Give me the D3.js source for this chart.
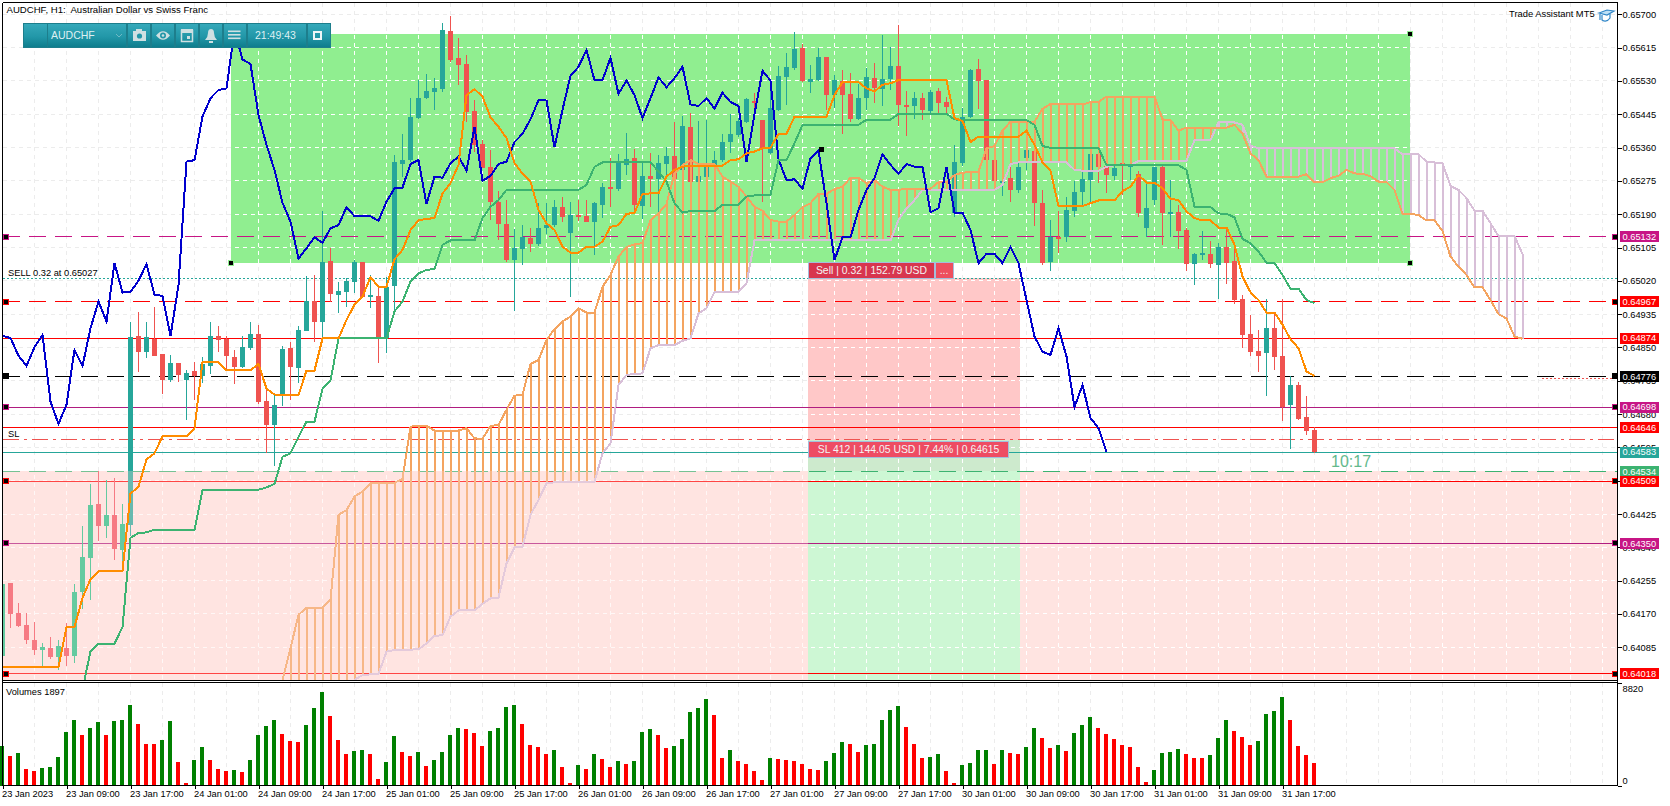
<!DOCTYPE html>
<html>
<head>
<meta charset="utf-8">
<script src="https://cdn.jsdelivr.net/npm/d3@7"></script>
<style>
  html, body { margin: 0; padding: 0; background: #fff; }
  svg { display: block; }
  text { font-family: "Liberation Sans", Arial, sans-serif; font-size: 9.3px; fill: #000; }
  .domain { display: none; }
  .axis line { stroke: #000; shape-rendering: crispEdges; }
  .crisp { shape-rendering: crispEdges; }
</style>
</head>
<body>
<div id="chart"></div>
<script>
// all prices are in points, 65700 = 0.65700
var open = [
  64064,64249,64172,64143,64104,64079,64084,64059,64084,64062,
  64225,64314,64451,64395,64423,64332,64398,64880,64839,64872,
  64834,64768,64811,64768,64790,64778,64803,64880,64872,64825,
  64801,64849,64885,64714,64653,64727,64849,64798,64893,64968,
  64915,65071,64984,64992,65017,65067,64982,64982,64874,65007,
  65318,65327,65436,65487,65502,65510,65657,65588,65573,65453,
  65369,65310,65221,65165,65073,65102,65130,65114,65155,65163,
  65209,65143,65188,65186,65170,65214,65260,65255,65316,65334,
  65211,65288,65280,65318,65339,65303,65413,65273,65286,65311,
  65327,65374,65392,65424,65480,65430,65345,65456,65541,65562,
  65614,65528,65533,65592,65494,65531,65497,65432,65487,65538,
  65509,65534,65568,65469,65466,65487,65453,65505,65476,65192,
  65320,65437,65560,65533,65328,65270,65282,65252,65333,65352,
  65218,65067,65133,65131,65199,65247,65277,65343,65314,65288,
  65320,65310,65293,65156,65226,65311,65192,65196,65150,65063,
  65089,65089,65061,65106,65071,64974,64885,64841,64836,64900,
  64828,64704,64755,64673,64640
];
var high = [
  64247,64249,64198,64172,64150,64096,64111,64103,64147,64247,
  64395,64502,64534,64512,64517,64451,64916,64941,64914,64953,
  64834,64832,64811,64793,64812,64825,64914,64905,64878,64844,
  64880,64914,64908,64742,64732,64853,64863,64905,65033,65035,
  65198,65103,65017,65028,65072,65067,65034,65006,65031,65341,
  65395,65487,65532,65548,65538,65677,65696,65640,65595,65481,
  65379,65354,65249,65226,65153,65163,65155,65218,65218,65226,
  65235,65220,65225,65226,65220,65269,65334,65344,65396,65356,
  65320,65345,65341,65361,65425,65441,65447,65429,65430,65350,
  65395,65446,65436,65487,65500,65430,65515,65568,65600,65655,
  65624,65571,65613,65592,65545,65558,65551,65522,65562,65575,
  65647,65617,65673,65504,65501,65499,65507,65511,65488,65366,
  65460,65560,65585,65533,65330,65282,65310,65333,65354,65375,
  65252,65175,65197,65235,65275,65312,65343,65350,65320,65320,
  65323,65322,65300,65268,65311,65315,65276,65213,65154,65092,
  65147,65122,65116,65150,65100,64984,64933,64895,64974,64937,
  64974,64777,64762,64725,64646
];
var low = [
  64064,64133,64137,64094,64066,64038,64054,64026,64037,64045,
  64183,64205,64355,64365,64307,64300,64368,64788,64822,64827,
  64732,64762,64761,64665,64716,64759,64783,64839,64795,64757,
  64797,64844,64706,64580,64547,64700,64716,64759,64891,64863,
  64874,64967,64939,64953,64989,64978,64950,64810,64837,64946,
  65286,65324,65434,65483,65456,65503,65579,65520,65424,65349,
  65307,65174,65124,65067,64944,65061,65094,65109,65140,65158,
  65169,64980,65173,65169,65086,65180,65209,65250,65290,65201,
  65178,65209,65196,65286,65275,65301,65271,65271,65284,65308,
  65323,65345,65388,65422,65430,65220,65344,65454,65469,65558,
  65528,65498,65531,65456,65460,65395,65426,65430,65456,65473,
  65466,65507,65415,65390,65433,65430,65447,65446,65446,65184,
  65314,65435,65458,65325,65273,65237,65220,65245,65304,65160,
  65061,65046,65090,65120,65182,65210,65218,65270,65245,65276,
  65239,65276,65182,65133,65213,65111,65133,65101,65045,65009,
  65073,65053,64974,65012,64961,64848,64829,64788,64725,64793,
  64663,64591,64665,64627,64580
];
var close = [
  64247,64171,64140,64103,64077,64086,64059,64089,64062,64227,
  64315,64449,64395,64423,64337,64400,64876,64839,64876,64829,
  64768,64811,64780,64784,64778,64808,64880,64870,64827,64801,
  64851,64885,64711,64653,64704,64847,64801,64895,64968,64914,
  65068,64987,64994,65020,65067,64980,64985,64874,65004,65323,
  65328,65439,65487,65504,65512,65660,65583,65571,65451,65367,
  65308,65220,65165,65073,65104,65132,65114,65155,65163,65209,
  65184,65188,65184,65170,65219,65260,65255,65320,65331,65214,
  65288,65280,65320,65339,65280,65415,65273,65288,65311,65327,
  65374,65395,65428,65484,65476,65358,65461,65543,65566,65612,
  65530,65535,65592,65494,65532,65494,65432,65487,65540,65511,
  65534,65568,65469,65465,65487,65456,65502,65473,65463,65323,
  65437,65558,65530,65328,65275,65274,65252,65311,65354,65218,
  65065,65133,65128,65201,65247,65280,65343,65311,65290,65309,
  65314,65316,65194,65205,65311,65192,65196,65148,65063,65089,
  65091,65063,65106,65066,64971,64882,64839,64829,64900,64826,
  64698,64755,64668,64637,64584
];
var volumes = [
  3398,2534,2794,1411,1238,1498,1584,2448,4608,5645,
  4349,4954,5472,4349,5558,5645,6941,5299,3571,3571,
  3917,5558,2016,202,2189,3312,2189,1411,1238,1325,
  1152,2189,4349,5126,5645,4435,3830,3744,5213,6682,
  8064,5990,3917,2707,2966,3053,2707,547,2016,4262,
  2880,2534,2880,1670,2189,2880,4349,4954,4867,4522,
  3398,4694,4954,6768,6941,5299,3485,3312,2707,3053,
  1584,202,1757,1411,2707,2275,1584,2102,1843,2102,
  4608,4867,4349,3226,3398,4003,6336,6682,7459,6077,
  2362,3053,2102,1843,1238,461,2362,2275,2189,2102,
  1843,1411,1325,2102,2794,3744,3571,2880,3485,3571,
  5645,6509,6854,5040,3571,2362,2448,2707,1238,202,
  1757,1930,3053,3053,1843,3053,2794,2707,3312,4954,
  4090,3226,3485,2966,4522,5213,5904,4954,4435,4003,
  3485,3312,1584,288,1325,2794,2880,3139,2707,2362,
  2362,2621,4090,5645,4694,4176,3485,3830,6163,6422,
  7632,5645,3398,2621,1930
];
// 1 = green volume bar, 0 = red
var volumeUp = ("1010011111" + "0110111000" + "1100110001" + "0111100011" + "1000110011" +
  "0010111100" + "0111100001" + "0010100101" + "1100111110" + "0100001000" +
  "0001110011" + "1110001100" + "1111010011" + "0010111000" + "0000111100" +
  "0111000111" + "10000").split("");

// ichimoku lines
var tenkan = [
  64034,64034,64034,64034,64034,64034,64034,64034,64136,64137,
  64211,64259,64279,64279,64279,64279,64477,64495,64564,64580,
  64623,64623,64623,64623,64644,64812,64812,64812,64792,64792,
  64792,64792,64808,64745,64730,64729,64729,64729,64791,64791,
  64873,64873,64873,64920,64959,64980,65029,65005,65005,65075,
  65099,65150,65174,65178,65180,65243,65269,65316,65494,65509,
  65490,65437,65413,65384,65320,65294,65273,65201,65167,65150,
  65107,65092,65092,65107,65107,65120,65158,65162,65191,65193,
  65242,65243,65243,65286,65303,65311,65314,65314,65314,65314,
  65314,65328,65330,65345,65350,65358,65360,65395,65395,65439,
  65439,65439,65439,65439,65494,65527,65527,65527,65511,65503,
  65520,65524,65532,65532,65532,65532,65532,65532,65532,65435,
  65428,65374,65388,65388,65388,65388,65388,65388,65403,65367,
  65322,65301,65211,65211,65211,65211,65218,65225,65225,65225,
  65249,65260,65290,65270,65270,65256,65229,65226,65197,65180,
  65174,65174,65156,65156,65112,65031,64991,64971,64939,64939,
  64908,64871,64848,64789,64777
];
var kijunStart = 10;
var kijun = [
  63977,64075,64094,64094,64094,64137,64364,64377,64378,64385,
  64385,64385,64385,64385,64385,64487,64487,64487,64487,64487,
  64487,64487,64487,64493,64502,64571,64580,64622,64661,64661,
  64744,64766,64873,64873,64873,64873,64873,64873,64873,64942,
  64967,65018,65039,65048,65050,65112,65123,65123,65123,65123,
  65180,65209,65226,65252,65252,65252,65252,65252,65252,65252,
  65252,65252,65252,65265,65311,65322,65322,65322,65322,65322,
  65322,65322,65299,65273,65218,65194,65198,65198,65198,65198,
  65214,65214,65214,65235,65238,65239,65240,65328,65328,65371,
  65418,65418,65418,65418,65418,65418,65418,65418,65431,65431,
  65431,65431,65446,65446,65446,65446,65446,65446,65446,65432,
  65430,65430,65430,65430,65430,65430,65430,65430,65430,65418,
  65364,65359,65359,65359,65359,65359,65359,65359,65315,65315,
  65315,65315,65315,65315,65315,65315,65315,65315,65303,65209,
  65209,65208,65192,65191,65182,65127,65116,65095,65066,65066,
  65035,65000,65000,64971,64963
];
var chikou = [
  64880,64874,64829,64803,64851,64882,64712,64655,64704,64844,
  64803,64899,64967,64916,65065,64990,64992,65020,65063,64984,
  64982,64879,65009,65324,65328,65439,65486,65507,65511,65660,
  65585,65573,65443,65367,65303,65219,65171,65077,65103,65131,
  65117,65154,65162,65208,65185,65185,65185,65173,65222,65256,
  65258,65318,65328,65216,65286,65283,65320,65337,65301,65413,
  65275,65288,65318,65324,65374,65395,65432,65481,65480,65361,
  65456,65543,65566,65609,65532,65532,65589,65497,65531,65494,
  65435,65486,65539,65514,65537,65566,65470,65466,65486,65459,
  65500,65476,65466,65323,65446,65556,65531,65330,65277,65279,
  65255,65333,65352,65218,65073,65131,65131,65201,65252,65282,
  65343,65316,65293,65318,65311,65311,65195,65205,65310,65194,
  65194,65150,65065,65089,65089,65065,65106,65065,64971,64878,
  64839,64831,64899,64827,64698,64754,64670,64644,64584
];
var cloudStart = 34;
var spanA = [
  63950,64002,64083,64168,64186,64186,
  64186,64206,64423,64435,64470,64482,64503,64505,64505,64505,
  64514,64648,64650,64650,64638,64638,64638,64638,64644,64618,
  64617,64650,64652,64691,64727,64729,64808,64818,64869,64897,
  64916,64929,64950,64939,64939,65005,65035,65082,65106,65113,
  65116,65175,65192,65216,65294,65315,65328,65318,65318,65318,
  65286,65273,65260,65235,65209,65199,65175,65171,65171,65188,
  65208,65218,65242,65242,65254,65260,65283,65283,65269,65277,
  65260,65252,65252,65255,65255,65255,65255,65272,65271,65290,
  65296,65297,65299,65358,65364,65403,65426,65426,65426,65426,
  65459,65471,65471,65471,65470,65470,65476,65477,65490,65490,
  65490,65490,65490,65490,65490,65432,65430,65403,65411,65411,
  65411,65411,65411,65411,65418,65396,65345,65328,65286,65286,
  65286,65286,65286,65292,65271,65271,65282,65288,65303,65294,
  65293,65287,65273,65272,65252,65191,65191,65188,65174,65174,
  65147,65082,65056,65035,65003,65003,64971,64935,64924,64878,
  64872
];
var spanB = [
  63900,63900,63900,63900,63900,63900,
  63900,63900,63900,63960,64002,64014,64016,64017,64074,64078,
  64079,64079,64080,64095,64114,64116,64163,64179,64179,64179,
  64196,64210,64212,64299,64340,64342,64423,64461,64503,64506,
  64507,64507,64507,64507,64507,64580,64605,64754,64780,64782,
  64784,64848,64856,64856,64856,64867,64873,64937,64950,64992,
  64992,64992,64992,65014,65123,65123,65123,65123,65123,65123,
  65123,65123,65123,65123,65123,65123,65123,65123,65123,65123,
  65123,65123,65175,65205,65226,65252,65252,65252,65252,65252,
  65252,65252,65252,65252,65252,65265,65318,65322,65322,65322,
  65322,65322,65322,65322,65303,65301,65301,65301,65311,65315,
  65316,65315,65326,65326,65326,65326,65326,65326,65326,65379,
  65379,65379,65424,65424,65424,65418,65365,65358,65358,65358,
  65358,65358,65358,65358,65358,65358,65358,65358,65358,65358,
  65358,65358,65358,65358,65358,65343,65343,65343,65324,65322,
  65320,65262,65252,65231,65199,65199,65167,65134,65134,65134,
  65088
];

// axis labels
var priceTicks = [65700,65615,65530,65445,65360,65275,65190,65105,65020,64935,64850,64765,64680,64595,64510,64425,64340,64255,64170,64085];
var timeLabels = ["23 Jan 2023","23 Jan 09:00","23 Jan 17:00","24 Jan 01:00","24 Jan 09:00","24 Jan 17:00","25 Jan 01:00","25 Jan 09:00","25 Jan 17:00","26 Jan 01:00","26 Jan 09:00","26 Jan 17:00","27 Jan 01:00","27 Jan 09:00","27 Jan 17:00","30 Jan 01:00","30 Jan 09:00","30 Jan 17:00","31 Jan 01:00","31 Jan 09:00","31 Jan 17:00"];

// horizontal levels on the chart
var levelPrices = [65132,64967,64874,64776,64698,64646,64583,64534,64509,64350,64018];
var levelColors = ["#c71585","#ff0000","#ff0000","#000000","#b01c80","#ff0000","#26a69a","#3cb371","#ff0000","#b01c80","#ff0000"];
var levelBoxes = ["#c71585","#ff0000","#ff0000","#000000","#c71585","#ff0000","#26a69a","#3cb371","#ff0000","#c71585","#ff0000"];
var levelDashed = [1,1,0,1,0,0,0,1,0,0,0];
var levelHandles = [1,1,0,1,1,0,0,0,1,1,1];
var sellPrice = 65027, stopPrice = 64615, pinkTop = 64534;
var boxTop = 65650, boxBottom = 65065, boxLeft = 28.56, boxRight = 175.9;
var posLeft = 100.7, posRight = 127.2;

// chart areas
var svgWidth = 1670, svgHeight = 806;
var plotLeft = 2.5, plotRight = 1617.5, plotTop = 2.5, plotBottom = 680.5;
var volTop = 683, volBottom = 785.5;

var svg = d3.select("#chart").append("svg").attr("width", svgWidth).attr("height", svgHeight);
var defs = svg.append("defs");

var xScale = d3.scaleLinear().domain([0, 201.875]).range([plotLeft, plotRight]);
var yScale = d3.scaleLinear().domain([65700, 64085]).range([14.3, 647.3]);
var volScale = d3.scaleLinear().domain([0, 8820]).range([volBottom, volTop]);

// snap a y position to the middle of a pixel row
function snap(y) { return Math.round(y - .5) + .5; }

defs.append("clipPath").attr("id", "plotClip").append("rect")
  .attr("x", plotLeft).attr("y", plotTop)
  .attr("width", plotRight - plotLeft).attr("height", plotBottom - plotTop);

var main = svg.append("g").attr("clip-path", "url(#plotClip)");

// background zones
main.append("rect").attr("class", "crisp").attr("x", plotLeft).attr("width", plotRight - plotLeft)
  .attr("y", yScale(pinkTop)).attr("height", plotBottom - yScale(pinkTop)).attr("fill", "#ffe4e1");
main.append("rect").attr("class", "crisp").attr("x", xScale(boxLeft)).attr("width", xScale(boxRight) - xScale(boxLeft))
  .attr("y", yScale(boxTop)).attr("height", yScale(boxBottom) - yScale(boxTop)).attr("fill", "#90ee90");

// position box, risk part and target part
var posX = xScale(posLeft), posW = xScale(posRight) - xScale(posLeft);
main.append("rect").attr("class", "crisp").attr("x", posX).attr("width", posW)
  .attr("y", yScale(sellPrice)).attr("height", yScale(stopPrice) - yScale(sellPrice)).attr("fill", "#ffc8c8");
main.append("rect").attr("class", "crisp").attr("x", posX).attr("width", posW)
  .attr("y", yScale(stopPrice)).attr("height", yScale(pinkTop) - yScale(stopPrice)).attr("fill", "#cdeacd");
main.append("rect").attr("class", "crisp").attr("x", posX).attr("width", posW)
  .attr("y", yScale(pinkTop)).attr("height", plotBottom - yScale(pinkTop)).attr("fill", "#cdf7d4");

// grid, a grey one and a white one on top of the zones
var gridX = d3.range(0, 201, 4);
function drawGrid(parent, color) {
  parent.selectAll("line.gx").data(gridX).enter().append("line").attr("class", "gx crisp")
    .attr("x1", d => xScale(d)).attr("x2", d => xScale(d))
    .attr("y1", plotTop).attr("y2", plotBottom)
    .attr("stroke", color).attr("stroke-dasharray", "4,4");
  parent.selectAll("line.gy").data(priceTicks).enter().append("line").attr("class", "gy crisp")
    .attr("x1", plotLeft).attr("x2", plotRight)
    .attr("y1", d => snap(yScale(d))).attr("y2", d => snap(yScale(d)))
    .attr("stroke", color).attr("stroke-dasharray", "4,4");
}
drawGrid(main.append("g"), "#ececec");

var zoneClip = defs.append("clipPath").attr("id", "zoneClip");
zoneClip.append("rect").attr("x", plotLeft).attr("width", plotRight - plotLeft)
  .attr("y", yScale(pinkTop)).attr("height", plotBottom - yScale(pinkTop));
zoneClip.append("rect").attr("x", xScale(boxLeft)).attr("width", xScale(boxRight) - xScale(boxLeft))
  .attr("y", yScale(boxTop)).attr("height", yScale(boxBottom) - yScale(boxTop));
zoneClip.append("rect").attr("x", posX).attr("width", posW)
  .attr("y", yScale(sellPrice)).attr("height", plotBottom - yScale(sellPrice));
drawGrid(main.append("g").attr("clip-path", "url(#zoneClip)"), "#ffffff");

// levels
main.selectAll("line.level").data(levelPrices).enter().append("line").attr("class", "level crisp")
  .attr("x1", plotLeft).attr("x2", plotRight)
  .attr("y1", d => snap(yScale(d))).attr("y2", d => snap(yScale(d)))
  .attr("stroke", (d, i) => levelColors[i]).attr("stroke-width", 1)
  .attr("stroke-dasharray", (d, i) => levelDashed[i] ? "17,9" : null);
main.append("line").attr("class", "crisp").attr("x1", plotLeft).attr("x2", plotRight)
  .attr("y1", snap(yScale(sellPrice))).attr("y2", snap(yScale(sellPrice)))
  .attr("stroke", "#26a69a").attr("stroke-dasharray", "2,2");
main.append("line").attr("class", "crisp").attr("x1", plotLeft).attr("x2", plotRight)
  .attr("y1", snap(yScale(stopPrice))).attr("y2", snap(yScale(stopPrice)))
  .attr("stroke", "#ef5350").attr("stroke-dasharray", "16,5,3,5");
main.append("line").attr("class", "crisp").attr("x1", 1542).attr("x2", 1612)
  .attr("y1", snap(yScale(64776) + 2)).attr("y2", snap(yScale(64776) + 2))
  .attr("stroke", "#ef5350").attr("stroke-dasharray", "2,2");

// candles
var candles = open.map((d, i) => i);
function candleColor(i) {
  var inPink = high[i] <= pinkTop;
  if (close[i] >= open[i]) return inPink ? "#21bf85" : "#26a69a";
  return inPink ? "#f34c5b" : "#ef5350";
}
main.selectAll("line.wick").data(candles).enter().append("line").attr("class", "wick crisp")
  .attr("x1", d => xScale(d)).attr("x2", d => xScale(d))
  .attr("y1", d => yScale(high[d])).attr("y2", d => yScale(low[d]))
  .attr("stroke", candleColor);
main.selectAll("rect.body").data(candles).enter().append("rect").attr("class", "body crisp")
  .attr("x", d => xScale(d) - 2.5).attr("width", 5)
  .attr("y", d => yScale(Math.max(open[d], close[d])))
  .attr("height", d => Math.max(2, Math.abs(yScale(open[d]) - yScale(close[d]))))
  .attr("fill", candleColor);

// cloud hatch and its two borders
var cloudIdx = spanA.map((d, i) => i);
main.selectAll("line.hatch").data(cloudIdx).enter().append("line").attr("class", "hatch crisp")
  .attr("x1", d => xScale(d + cloudStart)).attr("x2", d => xScale(d + cloudStart))
  .attr("y1", d => yScale(spanA[d])).attr("y2", d => yScale(spanB[d]))
  .attr("stroke", d => spanA[d] >= spanB[d] ? "#f4a460" : "#d8bfd8").attr("stroke-width", 2);

function drawLine(values, start, color) {
  var line = d3.line().x((d, i) => xScale(i + start)).y(d => yScale(d));
  main.append("path").datum(values).attr("class", "crisp").attr("d", line).attr("fill", "none")
    .attr("stroke", color).attr("stroke-width", 2);
}
drawLine(spanB, cloudStart, "#d8bfd8");
drawLine(spanA, cloudStart, "#f4a460");
// the cloud looks paler inside the pink zone
main.append("rect").attr("class", "crisp").attr("x", plotLeft).attr("width", xScale(posLeft) - plotLeft)
  .attr("y", yScale(pinkTop)).attr("height", plotBottom - yScale(pinkTop))
  .attr("fill", "#ffe4e1").attr("opacity", .3);
drawLine(chikou, 0, "#0000cd");
drawLine(kijun, kijunStart, "#3cb371");
drawLine(tenkan, 0, "#ff8c00");

// handles on the objects
function handle(x, y, color) {
  svg.append("rect").attr("class", "crisp").attr("x", Math.round(x) - 3).attr("y", Math.round(y) - 3)
    .attr("width", 5).attr("height", 5)
    .attr("fill", "#000").attr("stroke", color).attr("stroke-width", 1);
}
levelPrices.forEach(function (p, i) {
  if (levelHandles[i]) {
    handle(5.5, yScale(p), levelBoxes[i]);
    handle(1614.5, yScale(p), levelBoxes[i]);
  }
});
handle(xScale(boxLeft), yScale(boxBottom), "#90ee90");
handle(xScale(boxRight), yScale(boxBottom), "#90ee90");
handle(xScale(boxRight), yScale(boxTop), "#90ee90");
svg.append("rect").attr("x", 819).attr("y", 147).attr("width", 5).attr("height", 5).attr("fill", "#000");

// trade buttons
function tradeLabel(x, y, w, h, fill, label) {
  svg.append("rect").attr("class", "crisp").attr("x", x).attr("y", y).attr("width", w).attr("height", h)
    .attr("fill", fill).attr("stroke", "#a4bedc");
  svg.append("text").attr("x", x + w / 2).attr("y", y + h / 2).attr("dy", ".36em")
    .attr("text-anchor", "middle").style("font-size", "10.4px").style("fill", "#f4f4f4").text(label);
}
tradeLabel(808.5, 262, 126, 16, "#d8354e", "Sell | 0.32 | 152.79 USD");
tradeLabel(935, 262, 18, 16, "#ee4f5f", "...");
tradeLabel(808.5, 441, 200, 16, "#ee4c63", "SL 412 | 144.05 USD | 7.44% | 0.64615");

// text on the chart
function chartText(x, y, label) {
  return svg.append("text").attr("x", x).attr("y", y).attr("dy", ".36em").text(label);
}
chartText(6.5, 10, "AUDCHF, H1:  Australian Dollar vs Swiss Franc").attr("xml:space", "preserve").style("font-size", "9.6px");
chartText(1509, 14, "Trade Assistant MT5").style("font-size", "9.4px");
chartText(8, 272.5, "SELL 0.32 at 0.65027");
chartText(8, 433.5, "SL");
chartText(1331, 461, "10:17").style("font-size", "16px").style("fill", "#63b98c");

// graduation cap
var cap = svg.append("g").attr("transform", "translate(1599,9)").attr("fill", "none").attr("stroke", "#2f86c8").attr("stroke-width", 1.2);
cap.append("path").attr("d", "M0 4 L8 1 L15 2 L8 6 Z").attr("fill", "#bfe0f5");
cap.append("path").attr("d", "M3 6 V11 C6 13 9 12 11 9 V5");
cap.append("path").attr("d", "M1 5 V11");

// right price axis, the boxed labels cover some tick labels
var yAxis = svg.append("g").attr("class", "axis").attr("transform", `translate(${plotRight},0)`)
  .call(d3.axisRight(yScale).tickValues(priceTicks).tickSize(4).tickPadding(1)
    .tickFormat(d => (d / 100000).toFixed(5)));
yAxis.selectAll("text").style("font-size", "9.3px");

var boxes = svg.append("g");
levelPrices.forEach(function (p, i) {
  boxes.append("rect").attr("class", "crisp").attr("x", 1620).attr("y", yScale(p) - 5.5).attr("width", 39).attr("height", 11)
    .attr("fill", levelBoxes[i]);
  boxes.append("text").attr("x", 1622.5).attr("y", yScale(p)).attr("dy", ".36em")
    .style("fill", "#fff").text((p / 100000).toFixed(5));
});

// volumes panel
var vol = svg.append("g");
vol.selectAll("line.gv").data(gridX).enter().append("line").attr("class", "gv crisp")
  .attr("x1", d => xScale(d)).attr("x2", d => xScale(d)).attr("y1", volTop).attr("y2", volBottom)
  .attr("stroke", "#ececec").attr("stroke-dasharray", "4,4");
vol.selectAll("rect").data(volumes).enter().append("rect").attr("class", "crisp")
  .attr("x", (d, i) => xScale(i) - 2.5).attr("width", 4)
  .attr("y", d => volScale(d)).attr("height", d => volBottom - volScale(d))
  .attr("fill", (d, i) => volumeUp[i] === "1" ? "#008000" : "#ff0000");
chartText(6, 692, "Volumes 1897");

var volAxis = svg.append("g").attr("class", "axis").attr("transform", `translate(${plotRight},0)`)
  .call(d3.axisRight(volScale).tickValues([0, 8820]).tickSize(4).tickPadding(1).tickFormat(d3.format("d")));
volAxis.selectAll("text").attr("dy", (d) => d === 0 ? "-0.2em" : "0.9em");

// time axis
var xAxis = svg.append("g").attr("class", "axis").attr("transform", `translate(0,${volBottom})`)
  .call(d3.axisBottom(xScale).tickValues(timeLabels.map((d, i) => i * 8)).tickSize(3).tickPadding(2)
    .tickFormat((d, i) => timeLabels[i]));
xAxis.selectAll("text").attr("text-anchor", "start").attr("x", -1).attr("y", 5).attr("dy", ".71em");

// frames
var frame = [
  [plotLeft, plotTop, plotRight, plotTop], [plotLeft, plotTop, plotLeft, volBottom],
  [plotRight, plotTop, plotRight, volBottom], [plotLeft, plotBottom, plotRight, plotBottom],
  [plotLeft, plotBottom + 2, plotRight, plotBottom + 2], [plotLeft, volBottom, plotRight, volBottom]
];
svg.selectAll("line.frame").data(frame).enter().append("line").attr("class", "frame crisp")
  .attr("x1", d => d[0]).attr("y1", d => d[1]).attr("x2", d => d[2]).attr("y2", d => d[3])
  .attr("stroke", "#000");

// toolbar
var grad = defs.append("linearGradient").attr("id", "barGrad").attr("x1", 0).attr("y1", 0).attr("x2", 0).attr("y2", 1);
grad.append("stop").attr("offset", "0%").attr("stop-color", "#35a9ba");
grad.append("stop").attr("offset", "55%").attr("stop-color", "#2297a8");
grad.append("stop").attr("offset", "100%").attr("stop-color", "#0e7d8d");
var bar = svg.append("g").attr("transform", "translate(23,23)");
bar.append("rect").attr("width", 308).attr("height", 25).attr("fill", "#1d7e8c");
var barCells = [[1, 23], [25, 78], [105, 22], [129, 22], [153, 22], [177, 22], [201, 22], [225, 58], [285, 22]];
bar.selectAll("rect.cell").data(barCells).enter().append("rect").attr("class", "cell")
  .attr("x", d => d[0]).attr("y", 1).attr("width", d => d[1]).attr("height", 23).attr("fill", "url(#barGrad)");
var barText = "#dff0f2";
bar.append("text").attr("x", 28).attr("y", 12.5).attr("dy", ".36em").style("fill", barText).style("font-size", "10.5px").text("AUDCHF");
bar.append("path").attr("d", "M93 11 L96 14 L99 11").attr("fill", "none").attr("stroke", "#6fb9c4");
bar.append("text").attr("x", 232).attr("y", 12.5).attr("dy", ".36em").style("fill", barText).style("font-size", "10.5px").text("21:49:43");
// camera
bar.append("rect").attr("x", 110).attr("y", 8).attr("width", 13).attr("height", 10).attr("fill", "#cfe0e2");
bar.append("rect").attr("x", 113).attr("y", 6).attr("width", 6).attr("height", 3).attr("fill", "#cfe0e2");
bar.append("circle").attr("cx", 116.5).attr("cy", 13).attr("r", 2.6).attr("fill", "#2297a8");
// eye
bar.append("path").attr("d", "M133 12.5 Q140 4 147 12.5 Q140 21 133 12.5 Z").attr("fill", "#cfe0e2");
bar.append("circle").attr("cx", 140).attr("cy", 12.5).attr("r", 3).attr("fill", "#2297a8");
bar.append("circle").attr("cx", 140).attr("cy", 12.5).attr("r", 1.3).attr("fill", "#cfe0e2");
// calendar
bar.append("rect").attr("x", 158.5).attr("y", 7.5).attr("width", 11).attr("height", 11).attr("fill", "none").attr("stroke", "#cfe0e2").attr("stroke-width", 1.5);
bar.append("rect").attr("x", 158).attr("y", 6).attr("width", 12).attr("height", 4).attr("fill", "#cfe0e2");
bar.append("rect").attr("x", 164).attr("y", 13).attr("width", 3).attr("height", 3).attr("fill", "#cfe0e2");
// bell
bar.append("path").attr("d", "M182 17 Q185 14 185 10 Q185 6 188 6 Q191 6 191 10 Q191 14 194 17 Z").attr("fill", "#cfe0e2");
bar.append("rect").attr("x", 186).attr("y", 18).attr("width", 4).attr("height", 2).attr("fill", "#cfe0e2");
// menu
[7.5, 11, 14.5].forEach(function (y) {
  bar.append("rect").attr("x", 205).attr("y", y).attr("width", 12.5).attr("height", 1.6).attr("fill", "#cfe0e2");
});
// window
bar.append("rect").attr("x", 291).attr("y", 9).attr("width", 7).attr("height", 7).attr("fill", "none").attr("stroke", "#eef6f7").attr("stroke-width", 2);
</script>
</body>
</html>
